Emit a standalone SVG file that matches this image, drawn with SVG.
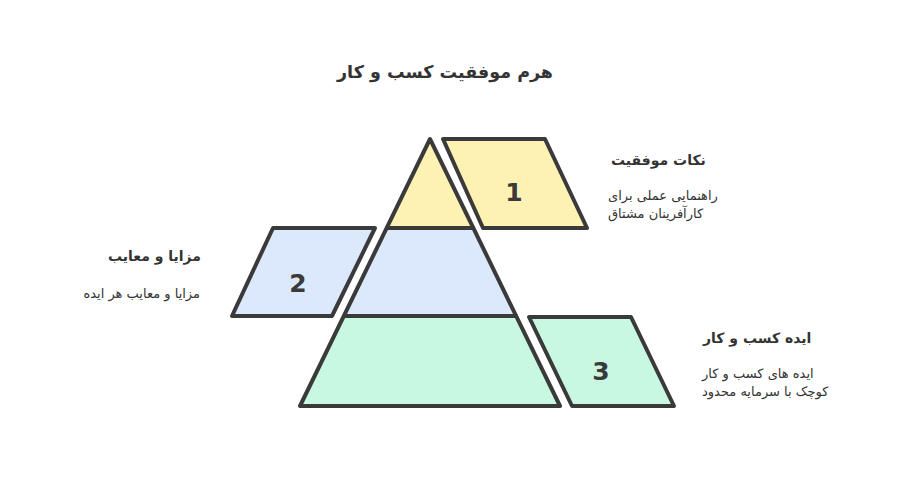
<svg xmlns="http://www.w3.org/2000/svg" width="900" height="482" viewBox="0 0 900 482">
<style>
.o{fill:none;stroke:#3a3a3a;stroke-width:4;stroke-linejoin:round;stroke-linecap:round}
.y{fill:#fdf2b3}
.b{fill:#dce8fc}
.g{fill:#c8f8e2}
.t{font-family:"DejaVu Sans",sans-serif;fill:#333}
.h{font-size:14px;font-weight:bold}
.s{font-size:13px}
.n{font-family:"DejaVu Sans",sans-serif;font-size:25px;font-weight:bold;fill:#3a3a3a;text-anchor:middle}
</style>
<rect width="900" height="482" fill="#fff"/>
<text class="t" x="445" y="78" text-anchor="middle" font-size="17.5" font-weight="bold">هرم موفقیت کسب و کار</text>
<g id="pyramid">
<polygon class="y" points="430,142 388,228 473,228"/>
<polygon class="b" points="387,228 474,228 516,316 344,316"/>
<polygon class="g" points="343,316 517,316 560,406 300,406"/>
<polygon class="o" points="430,139 560,406 300,406"/>
<line class="o" x1="387" y1="228" x2="473" y2="228"/>
<line class="o" x1="344" y1="316" x2="516" y2="316"/>
</g>
<g id="node1">
<polygon class="y" points="443,139 545,139 587,228 483,228"/>
<polygon class="o" points="443,139 545,139 587,228 483,228"/>
<text class="n" x="514" y="201">1</text>
<text class="t h" x="611" y="165" text-anchor="start">نکات موفقیت</text>
<text class="t s" x="608" y="200" text-anchor="start">راهنمایی عملی برای</text>
<text class="t s" x="608" y="218" text-anchor="start">کارآفرینان مشتاق</text>
</g>
<g id="node2">
<polygon class="b" points="273,228 375,228 332,316 232,316"/>
<polygon class="o" points="273,228 375,228 332,316 232,316"/>
<text class="n" x="298" y="292">2</text>
<text class="t h" x="201" y="261" text-anchor="end">مزایا و معایب</text>
<text class="t s" x="200" y="298" text-anchor="end">مزایا و معایب هر ایده</text>
</g>
<g id="node3">
<polygon class="g" points="529,317 631,317 674,406 572,406"/>
<polygon class="o" points="529,317 631,317 674,406 572,406"/>
<text class="n" x="601" y="380">3</text>
<text class="t h" x="703" y="343" text-anchor="start">ایده کسب و کار</text>
<text class="t s" x="702" y="378" text-anchor="start">ایده های کسب و کار</text>
<text class="t s" x="702" y="396" text-anchor="start">کوچک با سرمایه محدود</text>
</g>
<g id="connectors"></g>
</svg>
